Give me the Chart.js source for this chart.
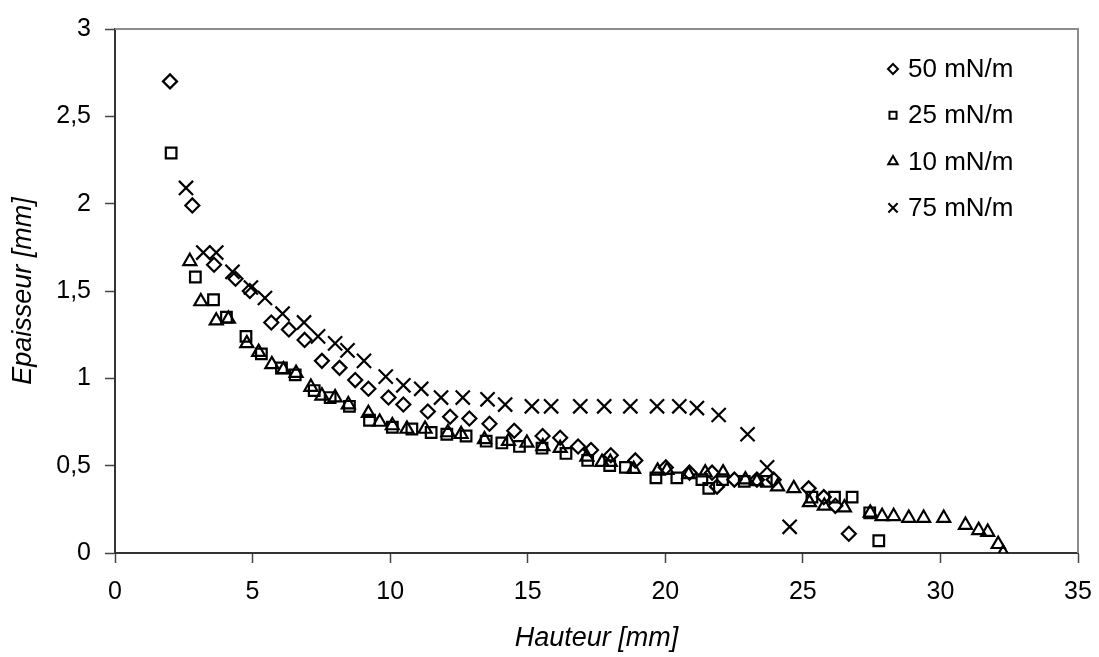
<!DOCTYPE html>
<html>
<head>
<meta charset="utf-8">
<script src="https://cdn.jsdelivr.net/npm/chart.js@4"></script>
<style>
  body { margin: 0; background: #fff; }
  #box { width: 1099px; height: 657px; }
</style>
</head>
<body>
<div id="box"><canvas id="grafica"></canvas></div>
<script>
// 50 mN/m
const hauteur50 = [2.0, 2.81, 3.60, 4.38, 4.90, 5.68, 6.32, 6.89, 7.52, 8.16, 8.73, 9.21, 9.94, 10.48, 11.37, 12.18, 12.88, 13.61, 14.51, 15.54, 16.18, 16.83, 17.30, 18.02, 18.91, 20.02, 20.88, 21.70, 21.88, 22.51, 23.33, 23.94, 25.21, 25.76, 26.18, 26.67];
const epaisseur50 = [2.70, 1.99, 1.65, 1.57, 1.50, 1.32, 1.28, 1.22, 1.10, 1.06, 0.99, 0.94, 0.89, 0.85, 0.81, 0.78, 0.77, 0.74, 0.70, 0.67, 0.66, 0.61, 0.59, 0.56, 0.53, 0.49, 0.46, 0.46, 0.38, 0.42, 0.42, 0.42, 0.37, 0.32, 0.27, 0.11];

// 25 mN/m
const hauteur25 = [2.04, 2.92, 3.58, 4.05, 4.76, 5.32, 6.05, 6.55, 7.24, 7.82, 8.52, 9.25, 10.08, 10.79, 11.49, 12.06, 12.76, 13.49, 14.06, 14.70, 15.52, 16.39, 17.18, 17.98, 18.55, 19.66, 20.42, 21.33, 21.58, 22.08, 22.87, 23.67, 25.33, 26.15, 26.79, 27.43, 27.76];
const epaisseur25 = [2.29, 1.58, 1.45, 1.35, 1.24, 1.14, 1.06, 1.02, 0.93, 0.89, 0.84, 0.76, 0.72, 0.71, 0.69, 0.68, 0.67, 0.64, 0.63, 0.61, 0.60, 0.57, 0.53, 0.50, 0.49, 0.43, 0.43, 0.42, 0.37, 0.42, 0.41, 0.41, 0.32, 0.32, 0.32, 0.23, 0.07];

// 10 mN/m
const hauteur10 = [2.72, 3.12, 3.68, 4.12, 4.79, 5.22, 5.70, 6.12, 6.58, 7.12, 7.52, 8.0, 8.48, 9.21, 9.62, 10.08, 10.61, 11.27, 12.10, 12.58, 13.43, 14.30, 14.97, 15.55, 16.18, 17.15, 17.70, 18.0, 18.85, 19.72, 20.06, 20.85, 21.45, 22.1, 22.91, 23.33, 24.08, 24.67, 25.24, 25.78, 26.51, 27.45, 27.88, 28.30, 28.85, 29.39, 30.12, 30.91, 31.39, 31.72, 32.10, 32.28];
const epaisseur10 = [1.67, 1.44, 1.33, 1.34, 1.20, 1.15, 1.08, 1.05, 1.03, 0.95, 0.90, 0.89, 0.85, 0.80, 0.75, 0.73, 0.71, 0.71, 0.69, 0.68, 0.65, 0.64, 0.63, 0.61, 0.60, 0.55, 0.52, 0.52, 0.48, 0.47, 0.475, 0.45, 0.46, 0.46, 0.42, 0.41, 0.38, 0.37, 0.29, 0.27, 0.26, 0.23, 0.21, 0.21, 0.20, 0.20, 0.20, 0.16, 0.13, 0.12, 0.05, 0.00];

// 75 mN/m
const hauteur75 = [2.58, 3.21, 3.68, 4.27, 4.94, 5.45, 6.09, 6.87, 7.38, 8.0, 8.45, 9.05, 9.84, 10.48, 11.13, 11.85, 12.64, 13.54, 14.18, 15.15, 15.85, 16.91, 17.78, 18.73, 19.70, 20.51, 21.15, 21.94, 22.99, 23.70, 24.52];
const epaisseur75 = [2.09, 1.72, 1.72, 1.61, 1.52, 1.46, 1.37, 1.32, 1.24, 1.20, 1.16, 1.10, 1.01, 0.96, 0.94, 0.89, 0.89, 0.88, 0.85, 0.84, 0.84, 0.84, 0.84, 0.84, 0.84, 0.84, 0.83, 0.79, 0.68, 0.49, 0.15];

const etiquetas = ['50 mN/m', '25 mN/m', '10 mN/m', '75 mN/m'];
const estilos = ['rectRot', 'rect', 'triangle', 'crossRot'];
const radios = [7, 7.5, 7.5, 10];
const radiosLeyenda = [5, 5, 5.5, 6.5];

const puntos = (xs, ys) => xs.map((x, i) => ({ x: x, y: ys[i] }));
const series = [
    puntos(hauteur50, epaisseur50),
    puntos(hauteur25, epaisseur25),
    puntos(hauteur10, epaisseur10),
    puntos(hauteur75, epaisseur75)
];

const FUENTE = "'Liberation Sans', Arial, sans-serif";
const coma = v => String(v).replace('.', ',');

// bordes gris arriba y a la derecha
const marco = {
    id: 'marco',
    beforeDatasetsDraw(chart) {
        const { ctx, chartArea: a } = chart;
        ctx.save();
        ctx.strokeStyle = '#8c8c8c';
        ctx.lineWidth = 2;
        ctx.beginPath();
        ctx.moveTo(a.left, a.top);
        ctx.lineTo(a.right, a.top);
        ctx.lineTo(a.right, a.bottom);
        ctx.stroke();
        ctx.restore();
    }
};

// leyenda dentro del area, arriba a la derecha
const leyenda = {
    id: 'leyenda',
    afterDraw(chart) {
        const { ctx, chartArea: a } = chart;
        ctx.save();
        ctx.font = '26px ' + FUENTE;
        ctx.textBaseline = 'middle';
        ctx.textAlign = 'left';
        chart.data.datasets.forEach((ds, i) => {
            const y = a.top + 40 + i * 46.3;
            const x = a.right - 185;
            ctx.strokeStyle = '#000';
            ctx.fillStyle = '#fff';
            ctx.lineWidth = 2;
            Chart.helpers.drawPoint(ctx, { pointStyle: estilos[i], radius: radiosLeyenda[i], rotation: 0, borderWidth: 2 }, x, y);
            ctx.fillStyle = '#000';
            ctx.fillText(ds.label, x + 15, y + 1);
        });
        ctx.restore();
    }
};

new Chart(document.getElementById('grafica'), {
    type: 'scatter',
    data: {
        datasets: series.map((datos, i) => ({
            label: etiquetas[i],
            data: datos,
            pointStyle: estilos[i],
            pointRadius: radios[i],
            pointHoverRadius: radios[i],
            pointBorderWidth: 2.2,
            borderColor: '#000',
            backgroundColor: 'rgba(255,255,255,0)'
        }))
    },
    options: {
        responsive: true,
        maintainAspectRatio: false,
        animation: false,
        layout: { padding: { top: 29, right: 21, left: 0, bottom: 0 } },
        plugins: {
            legend: { display: false },
            tooltip: { enabled: false }
        },
        scales: {
            x: {
                type: 'linear',
                min: 0,
                max: 35,
                ticks: {
                    stepSize: 5,
                    padding: 14,
                    color: '#000',
                    font: { family: FUENTE, size: 25 },
                    callback: coma
                },
                grid: { drawOnChartArea: false, tickLength: 10, tickColor: '#444', tickWidth: 1.5 },
                border: { color: '#333', width: 2 },
                title: {
                    display: true,
                    text: 'Hauteur [mm]',
                    color: '#000',
                    font: { family: FUENTE, size: 27, style: 'italic' },
                    padding: { top: 0, bottom: 2 }
                },
                afterFit: s => {
                    s.height = 104;
                    s.paddingLeft = 0;
                    s.paddingRight = 0;
                }
            },
            y: {
                type: 'linear',
                min: 0,
                max: 3,
                ticks: {
                    stepSize: 0.5,
                    padding: 14,
                    color: '#000',
                    font: { family: FUENTE, size: 25 },
                    callback: coma
                },
                grid: { drawOnChartArea: false, tickLength: 10, tickColor: '#444', tickWidth: 1.5 },
                border: { color: '#333', width: 2 },
                title: {
                    display: true,
                    text: 'Epaisseur [mm]',
                    color: '#000',
                    font: { family: FUENTE, size: 27, style: 'italic' },
                    padding: { top: 7, bottom: 0 }
                },
                afterFit: s => {
                    s.width = 115;
                    s.paddingTop = 0;
                    s.paddingBottom = 0;
                }
            }
        }
    },
    plugins: [marco, leyenda]
});
</script>
</body>
</html>
